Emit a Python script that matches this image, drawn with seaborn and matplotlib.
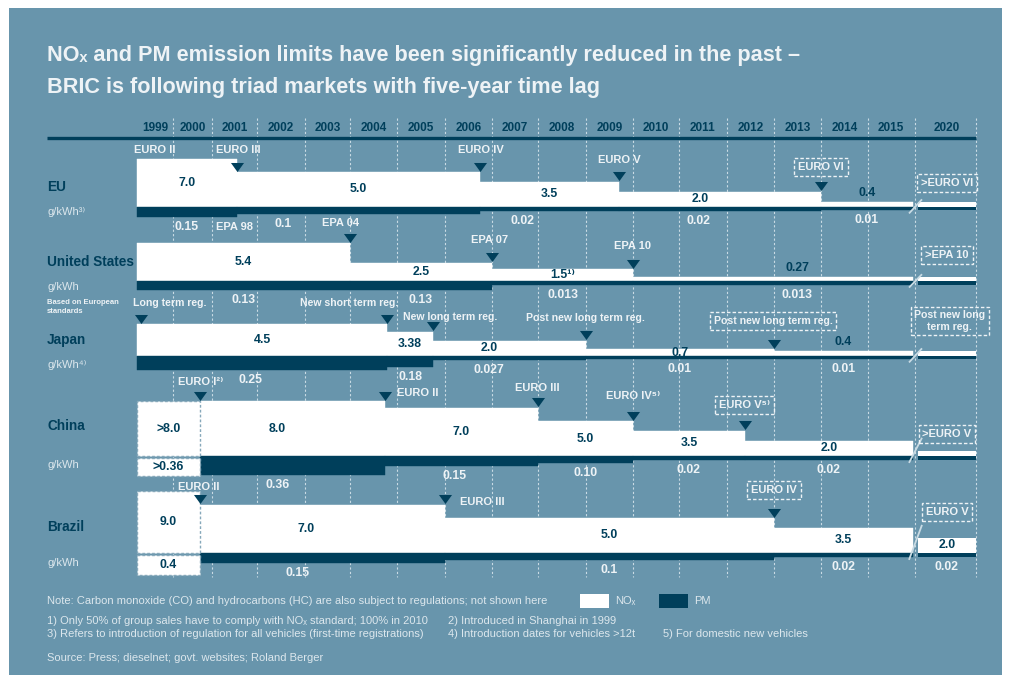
import numpy as np
import matplotlib
matplotlib.use('Agg')
import matplotlib.pyplot as plt
import seaborn as sns
from matplotlib import font_manager
from matplotlib.patches import Rectangle

# ── Canvas & colours ──────────────────────────────────────────────────────────
W, H = 1011, 680
BG       = '#6895ac'
NAVY     = '#003f5b'
WHITE    = '#ffffff'
SOFT     = '#eef3f6'
NOTE     = '#dce7ed'
GRID     = '#c9dbe4'
BOX_EDGE = '#86a8ba'

# ── Time axis: column edges (year -> pixel), used by a FuncScale ─────────────
YEAR_KNOTS = [1990] + list(range(1999, 2017)) + [2020, 2021, 2030]
PX_KNOTS   = [-277, 137, 173, 212, 257, 305, 350, 397, 445, 492, 538, 586,
              633, 679, 727, 774, 821, 868, 913, 918, 976, 1498]

YEAR_LABELS = [str(y) for y in range(1999, 2016)] + ['2020']
YEAR_CENTRE = [y + 0.5 for y in range(1999, 2016)] + [2020.5]
DIVIDERS    = list(range(2000, 2016)) + [2018, 2021]

# ── Data: EU ──────────────────────────────────────────────────────────────────
EU_START   = [1999.0, 2001.55, 2006.75, 2009.7, 2014.0]
EU_NOX     = [7.0, 5.0, 3.5, 2.0, 0.4]
EU_PM      = [0.15, 0.1, 0.02, 0.02, 0.01]
EU_NOX_TXT = ['7.0', '5.0', '3.5', '2.0', '0.4']
EU_PM_TXT  = ['0.15', '0.1', '0.02', '0.02', '0.01']
EU_2020    = [0.4, 0.01]
EU_STD     = ['EURO II', 'EURO III', 'EURO IV', 'EURO V', 'EURO VI', '>EURO VI']

# ── Data: United States ───────────────────────────────────────────────────────
US_START   = [1999.0, 2004.0, 2007.0, 2010.0]
US_NOX     = [5.4, 2.5, 1.5, 0.27]
US_PM      = [0.13, 0.13, 0.013, 0.013]
US_NOX_TXT = ['5.4', '2.5', '1.5¹⁾', '0.27']
US_PM_TXT  = ['0.13', '0.13', '0.013', '0.013']
US_2020    = [0.27, 0.013]
US_STD     = ['EPA 98', 'EPA 04', 'EPA 07', 'EPA 10', '>EPA 10']

# ── Data: Japan ───────────────────────────────────────────────────────────────
JP_START   = [1999.0, 2004.79, 2005.75, 2009.0, 2013.0]
JP_NOX     = [4.5, 3.38, 2.0, 0.7, 0.4]
JP_PM      = [0.25, 0.18, 0.027, 0.01, 0.01]
JP_NOX_TXT = ['4.5', '3.38', '2.0', '0.7', '0.4']
JP_PM_TXT  = ['0.25', '0.18', '0.027', '0.01', '0.01']
JP_2020    = [0.4, 0.01]
JP_STD     = ['Long term reg.', 'New short term reg.', 'New long term reg.',
              'Post new long term reg.', 'Post new long term reg.',
              'Post new long\nterm reg.']

# ── Data: China ───────────────────────────────────────────────────────────────
CN_START   = [1999.0, 2000.69, 2004.74, 2008.0, 2010.0, 2012.38]
CN_NOX     = [8.0, 8.0, 7.0, 5.0, 3.5, 2.0]
CN_PM      = [0.36, 0.36, 0.15, 0.10, 0.02, 0.02]
CN_NOX_TXT = ['>8.0', '8.0', '7.0', '5.0', '3.5', '2.0']
CN_PM_TXT  = ['>0.36', '0.36', '0.15', '0.10', '0.02', '0.02']
CN_2020    = [0.4, 0.02]
CN_STD     = ['EURO I²⁾', 'EURO II', 'EURO III', 'EURO IV⁵⁾', 'EURO V⁵⁾', '>EURO V']

# ── Data: Brazil ──────────────────────────────────────────────────────────────
BR_START   = [1999.0, 2000.69, 2006.0, 2013.0]
BR_NOX     = [9.0, 7.0, 5.0, 3.5]
BR_PM      = [0.4, 0.15, 0.1, 0.02]
BR_NOX_TXT = ['9.0', '7.0', '5.0', '3.5']
BR_PM_TXT  = ['0.4', '0.15', '0.1', '0.02']
BR_2020    = [2.0, 0.02]
BR_2020_TXT = ['2.0', '0.02']
BR_STD     = ['EURO II', 'EURO III', 'EURO IV', 'EURO V']

# ── Layout (label anchors: year, pixel row, alignment) ───────────────────────
EU_STD_POS = [(1999.5, 150, 'center'), (2001.09, 150, 'left'), (2006.28, 150, 'left'),
              (2009.7, 160, 'center'), (2014.0, 167, 'center'), (2020.5, 183, 'center')]
US_STD_POS = [(2001.5, 227, 'center'), (2003.8, 223, 'center'), (2006.95, 240, 'center'),
              (2010.0, 246, 'center'), (2020.5, 255, 'center')]
JP_STD_POS = [(1999.92, 303, 'center'), (2003.98, 303, 'center'), (2006.1, 317, 'center'),
              (2008.98, 318, 'center'), (2012.98, 321, 'center'), (2020.55, 321, 'center')]
CN_STD_POS = [(2000.72, 382, 'center'), (2005.0, 393, 'left'), (2007.98, 388, 'center'),
              (2010.0, 396, 'center'), (2012.38, 405, 'center'), (2020.5, 434, 'center')]
BR_STD_POS = [(2000.67, 487, 'center'), (2006.31, 502, 'left'), (2013.0, 490, 'center'),
              (2020.5, 512, 'center')]

EU_MARK = ([2001.55, 2006.75, 2009.7, 2014.0], [1, 1, 2, 3])
US_MARK = ([2004.0, 2007.0, 2010.0], [0, 1, 2])
JP_MARK = ([1999.1, 2004.79, 2005.75, 2009.0, 2013.0], [0, 0, 1, 2, 3])
CN_MARK = ([2000.69, 2004.74, 2008.0, 2010.0, 2012.38], [1, 1, 2, 3, 4])
BR_MARK = ([2000.69, 2006.0, 2013.0], [1, 1, 2])

LABEL_X = {('EU', 'nox', 3): 2011.44, ('EU', 'pm', 1): 2002.55, ('EU', 'pm', 2): 2007.67,
           ('EU', 'pm', 3): 2011.4,
           ('US', 'nox', 3): 2013.5, ('US', 'pm', 3): 2013.5,
           ('JP', 'nox', 2): 2006.94, ('JP', 'pm', 2): 2006.94, ('JP', 'pm', 0): 2001.85,
           ('CN', 'nox', 1): 2002.42, ('CN', 'pm', 1): 2002.44, ('CN', 'pm', 2): 2006.21,
           ('BR', 'nox', 1): 2003.02, ('BR', 'pm', 1): 2002.85}


# ── Helpers ───────────────────────────────────────────────────────────────────
def to_px(y):
    return np.interp(y, YEAR_KNOTS, PX_KNOTS)

def to_year(p):
    return np.interp(p, PX_KNOTS, YEAR_KNOTS)

def nox_h(v):
    return 2 + 6.6 * np.asarray(v, float)

def pm_h(v):
    return 3 + 44 * np.asarray(v, float)

def fx(p):
    return p / W

def fy(p):
    return 1 - p / H

def pick_font(cands):
    for c in cands:
        try:
            font_manager.findfont(font_manager.FontProperties(family=c),
                                  fallback_to_default=False)
            return c
        except ValueError:
            continue
    return 'DejaVu Sans'


sns.set_theme(style='white')
NARROW = pick_font(['Liberation Sans Narrow', 'DejaVu Sans Condensed', 'Liberation Sans'])
plt.rcParams['font.family'] = [NARROW, 'DejaVu Sans']

fig = plt.figure(figsize=(W / 100, H / 100), dpi=100)
fig.patch.set_facecolor('white')
fig.add_artist(Rectangle((fx(9), fy(675)), (1002 - 9) / W, (675 - 8) / H,
                         transform=fig.transFigure, fc=BG, ec='none', zorder=-5))

ax = fig.add_axes([0, 0, 1, 1])
ax.set_facecolor('none')
ax.set_xscale('function', functions=(to_px, to_year))
ax.set_xlim(float(to_year(0)), float(to_year(W)))
ax.set_ylim(H, 0)
ax.axis('off')

# ── Header ────────────────────────────────────────────────────────────────────
fig.text(fx(47), fy(56), 'NOₓ and PM emission limits have been significantly reduced in the past –',
         color=SOFT, fontsize=15.6, fontweight='bold', va='center')
fig.text(fx(47), fy(88), 'BRIC is following triad markets with five-year time lag',
         color=SOFT, fontsize=15.6, fontweight='bold', va='center')

ax.vlines(DIVIDERS, 118, 577, colors=GRID, linestyles=(0, (2, 2)), lw=0.8, zorder=1)
ax.hlines(138, float(to_year(47)), 2021, colors=NAVY, lw=2.4, zorder=3)
for lab, xc in zip(YEAR_LABELS, YEAR_CENTRE):
    ax.text(xc, 128, lab, ha='center', va='center', color=NAVY,
            fontsize=8.5, fontweight='bold')

TRI = [(-6.5, 4.5), (6.5, 4.5), (0, -4.5)]


def mid_year(a, b):
    return float(to_year((to_px(a) + to_px(b)) / 2))


def draw_row(key, base, start, nox, pm, nox_txt, pm_txt, v2020, std, std_pos,
             std_box, marks, boxed_first=False, txt2020=None, std_size=8):
    start = list(start)
    ends = start[1:] + [2016.0]
    widths = np.subtract(ends, start)
    hn = nox_h(nox)
    hp = pm_h(pm)

    first = 1 if boxed_first else 0
    ax.bar(start[first:], -hn[first:], width=widths[first:], bottom=base, align='edge',
           color=WHITE, ec=WHITE, lw=0.3, zorder=2)
    ax.bar(start[first:], hp[first:], width=widths[first:], bottom=base, align='edge',
           color=NAVY, ec=NAVY, lw=0.3, zorder=2)
    if boxed_first:
        ax.bar(start[0], -hn[0], width=widths[0], bottom=base - 0.5, align='edge',
               color=WHITE, ec=BOX_EDGE, lw=1, ls=(0, (2, 1.5)), zorder=3)
        ax.bar(start[0], hp[0], width=widths[0], bottom=base + 1.5, align='edge',
               color=WHITE, ec=BOX_EDGE, lw=1, ls=(0, (2, 1.5)), zorder=3)

    # 2020 column after the axis break
    h20n, h20p = nox_h(v2020[0]), pm_h(v2020[1])
    ax.bar([2020.0], [-h20n], width=1, bottom=base, align='edge', color=WHITE, lw=0, zorder=2)
    ax.bar([2020.0], [h20p], width=1, bottom=base, align='edge', color=NAVY, lw=0, zorder=2)
    top = max(hn[-1], h20n)
    ax.plot([float(to_year(909)), float(to_year(922))], [base + max(hp[-1], h20p) + 3, base - top - 3],
            color=GRID, lw=1.3, zorder=4, solid_capstyle='butt')

    # value labels
    for i, (s, e) in enumerate(zip(start, ends)):
        xc = LABEL_X.get((key, 'nox', i), mid_year(s, e))
        inside_box = boxed_first and i == 0
        yn = base - hn[i] / 2 if (hn[i] >= 6 or inside_box) else base - hn[i] - 9
        ax.text(xc, yn, nox_txt[i], ha='center', va='center', color=NAVY,
                fontsize=8.8, fontweight='bold', zorder=5)
        xp = LABEL_X.get((key, 'pm', i), mid_year(s, e))
        if inside_box:
            ax.text(xp, base + 1.5 + hp[i] / 2, pm_txt[i], ha='center', va='center',
                    color=NAVY, fontsize=8.8, fontweight='bold', zorder=5)
        else:
            ax.text(xp, base + hp[i] + 10, pm_txt[i], ha='center', va='center',
                    color=SOFT, fontsize=8.8, fontweight='bold', zorder=5)
    if txt2020:
        ax.text(2020.5, base - h20n / 2, txt2020[0], ha='center', va='center', color=NAVY,
                fontsize=8.8, fontweight='bold', zorder=5)
        ax.text(2020.5, base + h20p + 10, txt2020[1], ha='center', va='center', color=SOFT,
                fontsize=8.8, fontweight='bold', zorder=5)

    # regulation labels
    for lab, (xs, ys, ha), boxed in zip(std, std_pos, std_box):
        kw = {}
        if boxed:
            kw['bbox'] = dict(boxstyle='square,pad=0.35', fc='none', ec=SOFT,
                              lw=1, ls=(0, (2.5, 1.5)))
        ax.text(xs, ys, lab, ha=ha, va='center', color=SOFT, fontsize=std_size,
                fontweight='bold', zorder=5, multialignment='center', **kw)

    # introduction markers
    mx, anchor = marks
    for x, a in zip(mx, anchor):
        apex = base - hn[a] - 1
        ax.plot([x], [apex - 4.5], marker=TRI, ms=9.4, mew=0, color=NAVY, ls='none', zorder=6)


draw_row('EU', 207, EU_START, EU_NOX, EU_PM, EU_NOX_TXT, EU_PM_TXT, EU_2020, EU_STD,
         EU_STD_POS, [False] * 4 + [True] * 2, EU_MARK)
draw_row('US', 281, US_START, US_NOX, US_PM, US_NOX_TXT, US_PM_TXT, US_2020, US_STD,
         US_STD_POS, [False] * 4 + [True], US_MARK)
draw_row('JP', 356, JP_START, JP_NOX, JP_PM, JP_NOX_TXT, JP_PM_TXT, JP_2020, JP_STD,
         JP_STD_POS, [False] * 4 + [True] * 2, JP_MARK, std_size=7.6)
draw_row('CN', 456, CN_START, CN_NOX, CN_PM, CN_NOX_TXT, CN_PM_TXT, CN_2020, CN_STD,
         CN_STD_POS, [False] * 4 + [True] * 2, CN_MARK, boxed_first=True)
draw_row('BR', 553, BR_START, BR_NOX, BR_PM, BR_NOX_TXT, BR_PM_TXT, BR_2020, BR_STD,
         BR_STD_POS, [False] * 2 + [True] * 2, BR_MARK, boxed_first=True, txt2020=BR_2020_TXT)

# ── Row captions ──────────────────────────────────────────────────────────────
for name, yn, unit, yu in [('EU', 187, 'g/kWh³⁾', 212), ('United States', 262, 'g/kWh', 287),
                           ('Japan', 340, 'g/kWh⁴⁾', 365), ('China', 426, 'g/kWh', 465),
                           ('Brazil', 527, 'g/kWh', 563)]:
    fig.text(fx(47), fy(yn), name, color=NAVY, fontsize=9.8, fontweight='bold', va='center')
    fig.text(fx(47), fy(yu), unit, color=NOTE, fontsize=8, va='center')
fig.text(fx(47), fy(307), 'Based on European\nstandards', color=SOFT, fontsize=5.5,
         fontweight='bold', va='center', linespacing=1.4)

# ── Legend & notes ────────────────────────────────────────────────────────────
FOOT = 8
fig.text(fx(47), fy(601), 'Note: Carbon monoxide (CO) and hydrocarbons (HC) are also subject '
         'to regulations; not shown here', color=NOTE, fontsize=FOOT, va='center')
fig.add_artist(Rectangle((fx(580), fy(608)), 29 / W, 14 / H, transform=fig.transFigure,
                         fc=WHITE, ec='none'))
fig.add_artist(Rectangle((fx(659), fy(608)), 29 / W, 14 / H, transform=fig.transFigure,
                         fc=NAVY, ec='none'))
fig.text(fx(615), fy(601), 'NOₓ', color=NOTE, fontsize=FOOT, va='center')
fig.text(fx(694), fy(601), 'PM', color=NOTE, fontsize=FOOT, va='center')

fig.text(fx(47), fy(621), '1) Only 50% of group sales have to comply with NOₓ standard; 100% in 2010',
         color=NOTE, fontsize=FOOT, va='center')
fig.text(fx(448), fy(621), '2) Introduced in Shanghai in 1999', color=NOTE, fontsize=FOOT, va='center')
fig.text(fx(47), fy(634), '3) Refers to introduction of regulation for all vehicles '
         '(first-time registrations)', color=NOTE, fontsize=FOOT, va='center')
fig.text(fx(448), fy(634), '4) Introduction dates for vehicles >12t', color=NOTE, fontsize=FOOT, va='center')
fig.text(fx(663), fy(634), '5) For domestic new vehicles', color=NOTE, fontsize=FOOT, va='center')
fig.text(fx(47), fy(658), 'Source: Press; dieselnet; govt. websites; Roland Berger',
         color=NOTE, fontsize=FOOT, va='center')

fig.savefig('out.png', dpi=100, facecolor=fig.get_facecolor())
